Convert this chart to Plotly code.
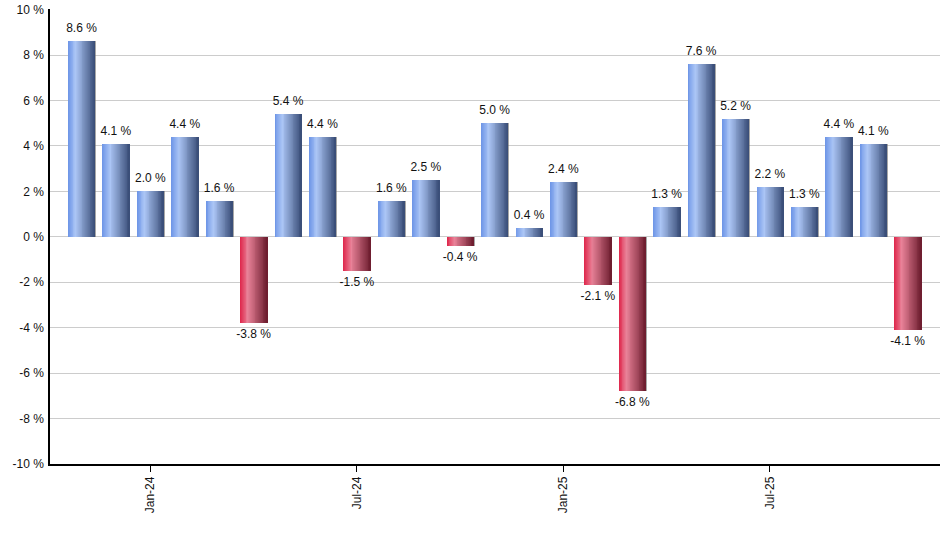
import plotly.graph_objects as go

# Monthly returns, Nov-23 .. Nov-25
months = ["Nov-23", "Dec-23", "Jan-24", "Feb-24", "Mar-24", "Apr-24", "May-24", "Jun-24",
          "Jul-24", "Aug-24", "Sep-24", "Oct-24", "Nov-24", "Dec-24", "Jan-25", "Feb-25",
          "Mar-25", "Apr-25", "May-25", "Jun-25", "Jul-25", "Aug-25", "Sep-25", "Oct-25", "Nov-25"]
returns = [8.6, 4.1, 2.0, 4.4, 1.6, -3.8, 5.4, 4.4,
           -1.5, 1.6, 2.5, -0.4, 5.0, 0.4, 2.4, -2.1,
           -6.8, 1.3, 7.6, 5.2, 2.2, 1.3, 4.4, 4.1, -4.1]
tick_months = ["Jan-24", "Jul-24", "Jan-25", "Jul-25"]
y_ticks = [-10, -8, -6, -4, -2, 0, 2, 4, 6, 8, 10]


def mix(stops, t):
    # piecewise-linear colour ramp, stops = [(pos, (r,g,b)), ...]
    for (p0, c0), (p1, c1) in zip(stops, stops[1:]):
        if p0 <= t <= p1:
            f = (t - p0) / (p1 - p0)
            return "rgb(%d,%d,%d)" % tuple(round(a + (b - a) * f) for a, b in zip(c0, c1))
    return "rgb(%d,%d,%d)" % stops[-1][1]


blue = [(0, (108, 148, 230)), (0.28, (172, 198, 246)), (1, (56, 76, 118))]
red = [(0, (222, 38, 74)), (0.28, (233, 130, 152)), (1, (108, 28, 46))]

fig = go.Figure()

bar_w = 0.78

# thin drop shadow on the right edge (drawn first, sits under the bar)
fig.add_trace(go.Bar(x=months, y=returns, width=0.05, offset=bar_w / 2 - 0.02,
                     marker=dict(color="rgba(110,110,110,0.6)", line=dict(width=0)),
                     hoverinfo="skip", showlegend=False))

# fake horizontal gradient: overlapping strips, each one runs to the bar's right edge
n_strips = 30
strip_w = bar_w / n_strips
for i in range(n_strips):
    t = (i + 0.5) / n_strips
    colors = [mix(blue, t) if v >= 0 else mix(red, t) for v in returns]
    fig.add_trace(go.Bar(x=months, y=returns, width=bar_w - i * strip_w,
                         offset=-bar_w / 2 + i * strip_w,
                         marker=dict(color=colors, line=dict(width=0)),
                         hoverinfo="skip", showlegend=False))

# value labels
fig.add_trace(go.Scatter(
    x=months, y=returns, mode="markers+text",
    marker=dict(size=8, color="rgba(0,0,0,0)"),
    text=["%.1f %%" % v for v in returns],
    textposition=["top center" if v >= 0 else "bottom center" for v in returns],
    textfont=dict(family="Arial", size=12, color="#111111"),
    hoverinfo="skip", showlegend=False))

fig.update_layout(
    width=940, height=550,
    margin=dict(l=50, r=0, t=9, b=86),
    paper_bgcolor="white", plot_bgcolor="white",
    barmode="overlay", bargap=0,
    font=dict(family="Arial", size=12, color="#111111"),
)
fig.update_xaxes(
    type="category", range=[-0.915, 24.94], automargin=False,
    tickmode="array", tickvals=tick_months, ticktext=tick_months,
    tickangle=-90, ticks="outside", ticklen=6, tickcolor="black",
    showline=True, linecolor="black", linewidth=1.5,
    showgrid=False, zeroline=False,
)
fig.update_yaxes(
    range=[-10, 10.03], automargin=False, ticklabeloverflow="allow",
    tickmode="array", tickvals=y_ticks, ticktext=["%d %%" % v for v in y_ticks],
    showline=True, linecolor="black", linewidth=1.5,
    showgrid=True, gridcolor="#cccccc", gridwidth=1,
    zeroline=False, ticks="", ticklabelstandoff=2,
)

# drop the browser's default 8px body margin so the figure sits at the page corner
fig.write_html("out.html", config={"displayModeBar": False},
               post_script="document.body.style.margin='0';")
